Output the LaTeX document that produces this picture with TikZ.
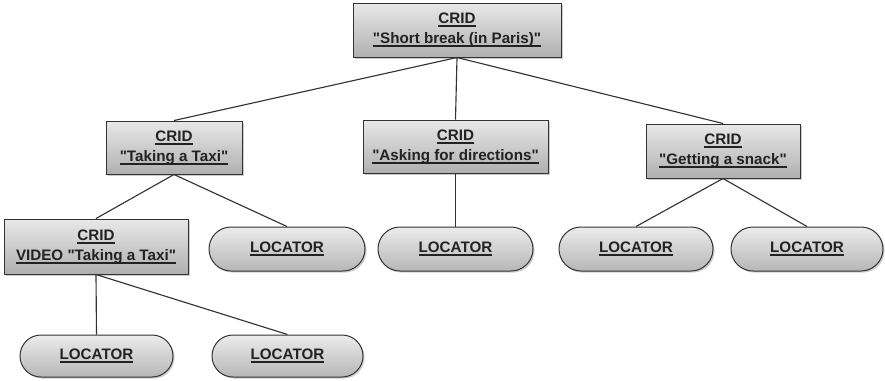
\documentclass[tikz,border=0pt]{standalone}
\usepackage{fontspec}
\setmainfont{Liberation Sans}[Ligatures=TeXOff]
\usetikzlibrary{shapes.misc,shadows}
\definecolor{edgegray}{HTML}{333333}
\definecolor{inkgray}{HTML}{222222}
% heavy underline: text with a thick rule below it
\newsavebox{\ulbox}
\newcommand{\ul}[1]{\sbox{\ulbox}{#1}%
  \rlap{\usebox{\ulbox}}\raisebox{-2.6pt}{\rule{\wd\ulbox}{1.3pt}}}
\tikzset{
  px/.style={x=0.75pt,y=-0.75pt},
  cridbox/.style={rectangle, draw=edgegray, line width=0.75pt,
    top color=gray!18, bottom color=gray!62,
    drop shadow={shadow xshift=1.2pt, shadow yshift=-1.2pt, opacity=0.4},
    align=center, font=\bfseries\fontsize{11.4}{15}\selectfont, text=inkgray,
    inner sep=0pt},
  locbox/.style={rounded rectangle, draw=edgegray, line width=0.75pt,
    top color=gray!15, bottom color=gray!57,
    drop shadow={shadow xshift=1.2pt, shadow yshift=-1.2pt, opacity=0.4},
    font=\bfseries\fontsize{11.4}{12}\selectfont, text=inkgray,
    inner sep=0pt, minimum height=33pt},
  link/.style={draw=edgegray, line width=0.85pt}
}
\begin{document}
\begin{tikzpicture}[px]
  \useasboundingbox (0,0) rectangle (885,380);
  % CRID boxes
  \node[cridbox, minimum width=156pt, minimum height=40.5pt] (root) at (457,30)
    {\ul{CRID}\\\ul{"Short break (in Paris)"}};
  \node[cridbox, minimum width=102pt, minimum height=39.75pt] (taxi) at (174,147.5)
    {\ul{CRID}\\\ul{"Taking a Taxi"}};
  \node[cridbox, minimum width=138.75pt, minimum height=39.75pt] (ask) at (455.5,146.5)
    {\ul{CRID}\\\ul{"Asking for directions"}};
  \node[cridbox, minimum width=115.5pt, minimum height=40.5pt] (snack) at (723,151)
    {\ul{CRID}\\\ul{"Getting a snack"}};
  \node[cridbox, minimum width=138pt, minimum height=41.25pt] (video) at (96,246.5)
    {\ul{CRID}\\\ul{VIDEO "Taking a Taxi"}};
  % locators
  \node[locbox, minimum width=117pt] (l1) at (287,249) {\ul{LOCATOR}};
  \node[locbox, minimum width=116.25pt] (l2) at (455.5,249) {\ul{LOCATOR}};
  \node[locbox, minimum width=115.5pt] (l3) at (636,249) {\ul{LOCATOR}};
  \node[locbox, minimum width=114pt] (l4) at (807,249) {\ul{LOCATOR}};
  \node[locbox, minimum width=114.75pt, minimum height=31.5pt] (l5) at (96.5,356) {\ul{LOCATOR}};
  \node[locbox, minimum width=113.25pt, minimum height=31.5pt] (l6) at (287.5,356) {\ul{LOCATOR}};
  % tree connectors
  \draw[link] (root.south) -- (taxi.north);
  \draw[link] (root.south) -- (ask.north);
  \draw[link] (root.south) -- (snack.north);
  \draw[link] (taxi.south) -- (video.north);
  \draw[link] (taxi.south) -- (l1.north);
  \draw[link] (ask.south) -- (l2.north);
  \draw[link] (snack.south) -- (l3.north);
  \draw[link] (snack.south) -- (l4.north);
  \draw[link] (video.south) -- (l5.north);
  \draw[link] (video.south) -- (l6.north);
\end{tikzpicture}
\end{document}
